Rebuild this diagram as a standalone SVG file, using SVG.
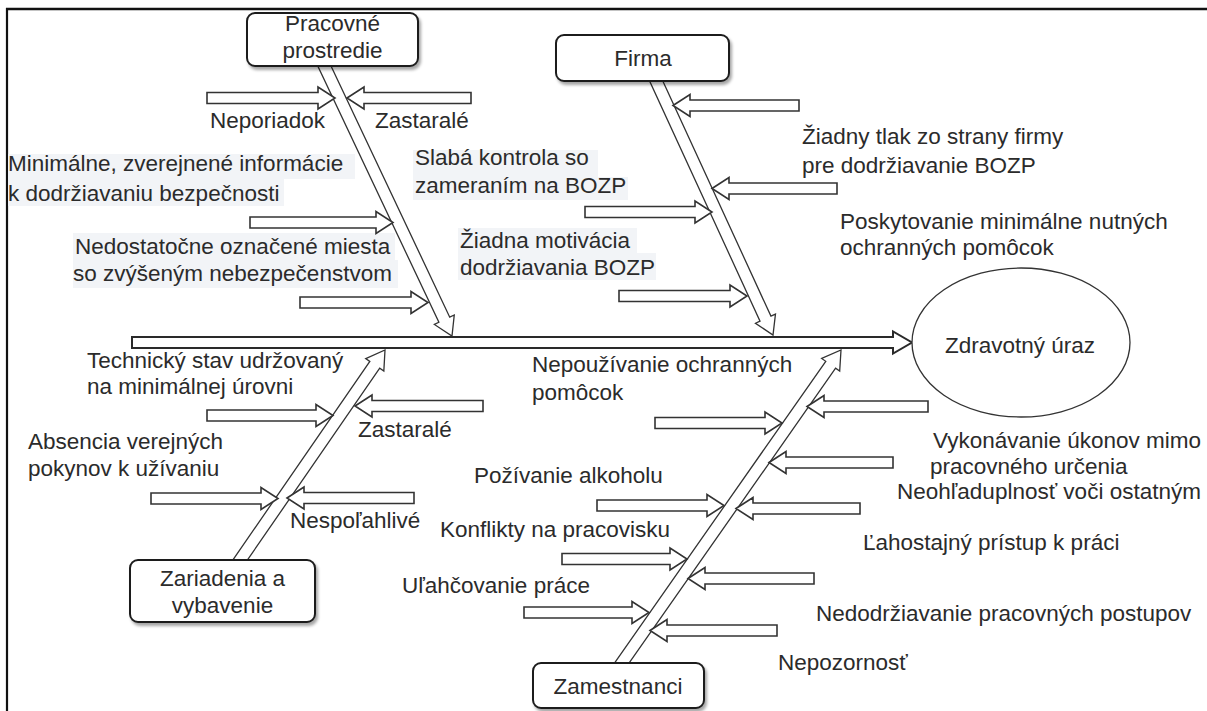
<svg xmlns="http://www.w3.org/2000/svg" width="1207" height="711" viewBox="0 0 1207 711">
  <defs>
    <filter id="shadow" x="-10%" y="-20%" width="130%" height="150%">
      <feDropShadow dx="2" dy="3" stdDeviation="1.5" flood-color="#000" flood-opacity="0.35"/>
    </filter>
    <style>
      text { font-family: "Liberation Sans", Arial, sans-serif; font-size: 22.5px; fill: #2b2b2b; }
      .mid { text-anchor: middle; }
      .box { fill: #fff; stroke: #1e1e1e; stroke-width: 2; filter: url(#shadow); }
      .bone { fill: #fff; stroke: #333; stroke-width: 1.3; stroke-linejoin: miter; }
      .arr { fill: #fff; stroke: #333; stroke-width: 1.6; }
      .spine { fill: #fff; stroke: #2a2a2a; stroke-width: 2; }
      .hl { fill: #f2f4f7; }
      .frame { stroke: #111; fill: none; }
    </style>
  </defs>

  <rect width="1207" height="711" fill="#fff"/>

  <!-- frame: top and left edges only -->
  <line class="frame" x1="6" y1="9" x2="1207" y2="9" stroke-width="2.6"/>
  <line class="frame" x1="7" y1="8" x2="7" y2="711" stroke-width="2.2"/>

  <!-- faint label backgrounds -->
  <g id="label-backgrounds">
    <rect class="hl" x="8" y="154" width="347" height="25"/>
    <rect class="hl" x="8" y="179" width="276" height="27"/>
    <rect class="hl" x="413" y="150" width="185" height="27"/>
    <rect class="hl" x="413" y="177" width="215" height="23"/>
    <rect class="hl" x="73" y="233" width="322" height="27"/>
    <rect class="hl" x="73" y="260" width="325" height="28"/>
    <rect class="hl" x="458" y="228" width="179" height="25"/>
    <rect class="hl" x="458" y="253" width="198" height="27"/>
  </g>

  <!-- connectors: spine, category bones and cause arrows -->
  <g id="connectors">
    <polygon class="spine" points="132,337 893,337 893,331.5 912,342.5 893,353.5 893,348 132,348"/>

    <!-- category bones (local frame: tip at origin, pointing +x) -->
    <polygon class="bone" transform="translate(452,336) rotate(64.7)" points="-303,-6 -18,-6 -18,-11 0,0 -18,11 -18,6 -303,6"/>
    <polygon class="bone" transform="translate(773,335) rotate(65.3)" points="-285,-6 -18,-6 -18,-11 0,0 -18,11 -18,6 -285,6"/>
    <polygon class="bone" transform="translate(385,350) rotate(-55.4)" points="-260,-6 -18,-6 -18,-11 0,0 -18,11 -18,6 -260,6"/>
    <polygon class="bone" transform="translate(841,350) rotate(-55)" points="-387,-6 -18,-6 -18,-11 0,0 -18,11 -18,6 -387,6"/>

    <!-- cause arrows pointing right -->
    <polygon class="arr" points="207,92.5 318,92.5 318,87 335,98 318,109 318,103.5 207,103.5"/>
    <polygon class="arr" points="250,217 376,217 376,211.5 393,222.5 376,233.5 376,228 250,228"/>
    <polygon class="arr" points="300,297 411,297 411,291.5 428,302.5 411,313.5 411,308 300,308"/>
    <polygon class="arr" points="585,206.5 695,206.5 695,201 712,212 695,223 695,217.5 585,217.5"/>
    <polygon class="arr" points="619,290.5 730,290.5 730,285 747,296 730,307 730,301.5 619,301.5"/>
    <polygon class="arr" points="207,410 316,410 316,404.5 333,415.5 316,426.5 316,421 207,421"/>
    <polygon class="arr" points="151,493 261,493 261,487.5 278,498.5 261,509.5 261,504 151,504"/>
    <polygon class="arr" points="655,417.5 765,417.5 765,412 782,423 765,434 765,428.5 655,428.5"/>
    <polygon class="arr" points="597,500 707,500 707,494.5 724,505.5 707,516.5 707,511 597,511"/>
    <polygon class="arr" points="562,553.5 670,553.5 670,548 687,559 670,570 670,564.5 562,564.5"/>
    <polygon class="arr" points="524,607 632,607 632,601.5 649,612.5 632,623.5 632,618 524,618"/>

    <!-- cause arrows pointing left -->
    <polygon class="arr" points="347,98 364,87 364,92.5 471,92.5 471,103.5 364,103.5 364,109"/>
    <polygon class="arr" points="673,105.5 690,94.5 690,100 799,100 799,111 690,111 690,116.5"/>
    <polygon class="arr" points="712,188.5 729,177.5 729,183 837,183 837,194 729,194 729,199.5"/>
    <polygon class="arr" points="355,406 372,395 372,400.5 483,400.5 483,411.5 372,411.5 372,417"/>
    <polygon class="arr" points="287,498 304,487 304,492.5 414,492.5 414,503.5 304,503.5 304,509"/>
    <polygon class="arr" points="807,406.5 824,395.5 824,401 928,401 928,412 824,412 824,417.5"/>
    <polygon class="arr" points="769,462.5 786,451.5 786,457 893,457 893,468 786,468 786,473.5"/>
    <polygon class="arr" points="736,508.5 753,497.5 753,503 860,503 860,514 753,514 753,519.5"/>
    <polygon class="arr" points="688,578.5 705,567.5 705,573 814,573 814,584 705,584 705,589.5"/>
    <polygon class="arr" points="650,630.5 667,619.5 667,625 777,625 777,636 667,636 667,641.5"/>
  </g>

  <!-- category nodes -->
  <g id="node-pracovne-prostredie">
    <rect class="box" x="247" y="13" width="171" height="53" rx="8"/>
    <text class="mid" x="332.5" y="31">Pracovné</text>
    <text class="mid" x="332.5" y="58">prostredie</text>
  </g>
  <g id="node-firma">
    <rect class="box" x="556" y="35" width="173" height="46" rx="8"/>
    <text class="mid" x="643" y="66">Firma</text>
  </g>
  <g id="node-zariadenia">
    <rect class="box" x="130" y="560" width="185" height="62" rx="8"/>
    <text class="mid" x="222.5" y="586">Zariadenia a</text>
    <text class="mid" x="222.5" y="613">vybavenie</text>
  </g>
  <g id="node-zamestnanci">
    <rect class="box" x="533" y="663" width="171" height="45" rx="8"/>
    <text class="mid" x="618" y="694">Zamestnanci</text>
  </g>

  <!-- effect -->
  <g id="node-zdravotny-uraz">
    <ellipse cx="1021" cy="342.5" rx="109" ry="74.5" fill="#fff" stroke="#333" stroke-width="1.3"/>
    <text class="mid" x="1020" y="353">Zdravotný úraz</text>
  </g>

  <!-- cause labels -->
  <g id="labels-pracovne-prostredie">
    <text x="210" y="128">Neporiadok</text>
    <text x="375" y="128">Zastaralé</text>
    <text x="8" y="171">Minimálne, zverejnené informácie</text>
    <text x="8" y="201">k dodržiavaniu bezpečnosti</text>
    <text x="75" y="254">Nedostatočne označené miesta</text>
    <text x="73" y="281">so zvýšeným nebezpečenstvom</text>
  </g>
  <g id="labels-firma">
    <text x="802" y="144">Žiadny tlak zo strany firmy</text>
    <text x="802" y="173">pre dodržiavanie BOZP</text>
    <text x="415" y="165">Slabá kontrola so</text>
    <text x="415" y="193">zameraním na BOZP</text>
    <text x="840" y="229">Poskytovanie minimálne nutných</text>
    <text x="840" y="255">ochranných pomôcok</text>
    <text x="460" y="248">Žiadna motivácia</text>
    <text x="460" y="275">dodržiavania BOZP</text>
  </g>
  <g id="labels-zariadenia">
    <text x="87" y="368">Technický stav udržovaný</text>
    <text x="87" y="394">na minimálnej úrovni</text>
    <text x="358" y="437">Zastaralé</text>
    <text x="28" y="449">Absencia verejných</text>
    <text x="28" y="476">pokynov k užívaniu</text>
    <text x="290" y="528">Nespoľahlivé</text>
  </g>
  <g id="labels-zamestnanci">
    <text x="532" y="372">Nepoužívanie ochranných</text>
    <text x="532" y="400">pomôcok</text>
    <text x="933" y="448">Vykonávanie úkonov mimo</text>
    <text x="930" y="474">pracovného určenia</text>
    <text x="897" y="499">Neohľaduplnosť voči ostatným</text>
    <text x="474" y="483">Požívanie alkoholu</text>
    <text x="440" y="537">Konflikty na pracovisku</text>
    <text x="863" y="550">Ľahostajný prístup k práci</text>
    <text x="402" y="593">Uľahčovanie práce</text>
    <text x="816" y="621">Nedodržiavanie pracovných postupov</text>
    <text x="778" y="670">Nepozornosť</text>
  </g>
</svg>
